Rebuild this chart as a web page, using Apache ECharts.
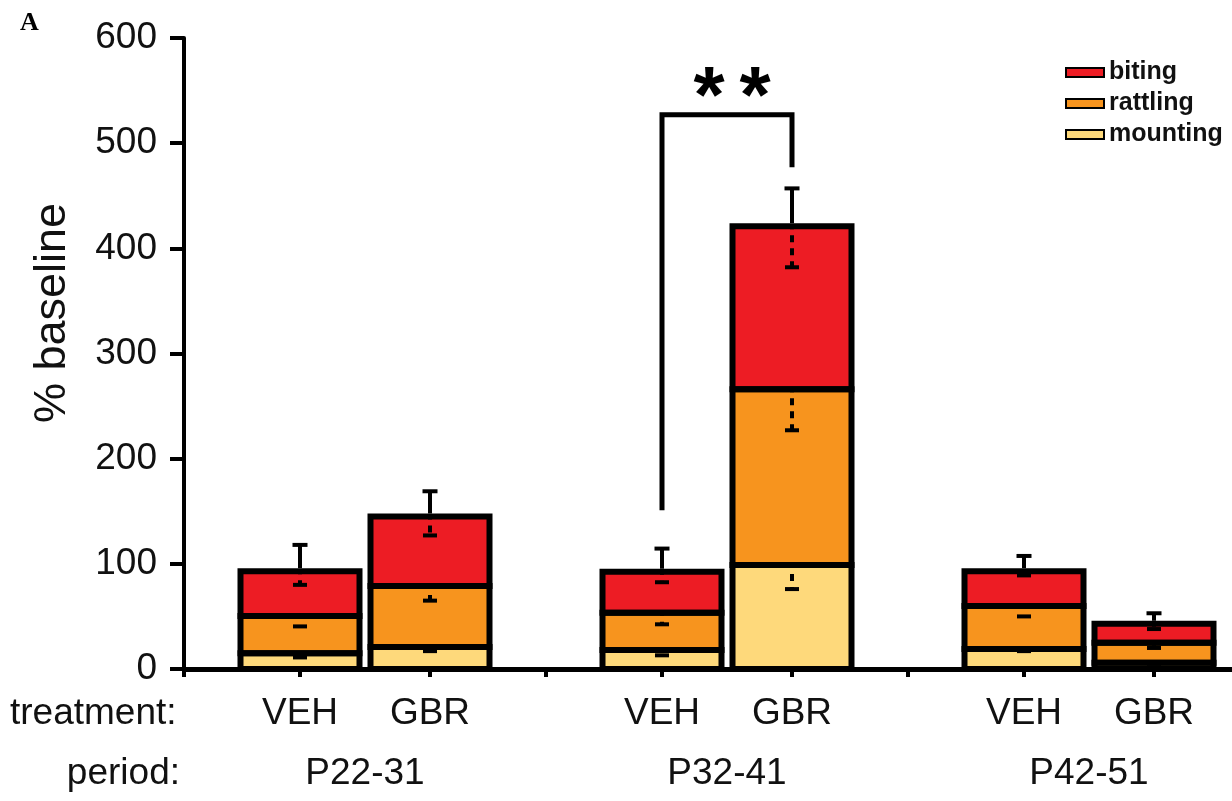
<!DOCTYPE html>
<html>
<head>
<meta charset="utf-8">
<style>
  html, body { margin: 0; padding: 0; background: #fff; }
  #chart { width: 1232px; height: 801px; }
</style>
<script src="https://cdn.jsdelivr.net/npm/echarts@6/dist/echarts.min.js"></script>
</head>
<body>
<div id="chart"></div>
<script>
// ---------- data ----------
const periods = ['P22-31', 'P32-41', 'P42-51'];
const treatments = ['VEH', 'GBR'];
const behaviours = ['biting', 'rattling', 'mounting'];

// stacked segment values (% baseline), per period
const vehMounting = [15, 18, 19];
const vehRattling = [35.5, 35.5, 41];
const vehBiting   = [42.5, 39, 33];
const gbrMounting = [21, 99, 6];
const gbrRattling = [58, 167, 19];
const gbrBiting   = [66, 155, 18];

// error bars: downward per segment (from segment top), upward for total
const vehMountingErr = [4, 5, 2];
const vehRattlingErr = [10, 11, 10];
const vehBitingErr   = [13, 10, 4];
const vehTotalErr    = [25, 22, 14.5];
const gbrMountingErr = [4, 23, 1];
const gbrRattlingErr = [14, 39, 5];
const gbrBitingErr   = [18, 39, 5];
const gbrTotalErr    = [24, 36, 10];

// significance bracket (period index, left/top/right y-values)
const sigPeriod = 1;
const sigLeft = 151;
const sigTop = 527;
const sigRight = 477;
const sigText = '*';

const yMin = 0, yMax = 600, yInterval = 100;

// ---------- style ----------
const FONT = "'Liberation Sans', Arial, Helvetica, sans-serif";
const COLORS = { biting: '#ED1C24', rattling: '#F7941E', mounting: '#FED97B' };
const BAR_W = 119;
const GAP = 11;
const BORDER = 6;

const segs = {
  VEH: { mounting: vehMounting, rattling: vehRattling, biting: vehBiting },
  GBR: { mounting: gbrMounting, rattling: gbrRattling, biting: gbrBiting }
};
const errs = {
  VEH: { mounting: vehMountingErr, rattling: vehRattlingErr, biting: vehBitingErr, total: vehTotalErr },
  GBR: { mounting: gbrMountingErr, rattling: gbrRattlingErr, biting: gbrBitingErr, total: gbrTotalErr }
};
const stackOrder = ['mounting', 'rattling', 'biting'];

const barSeries = [];
treatments.forEach(function (t) {
  stackOrder.forEach(function (b) {
    barSeries.push({
      type: 'bar',
      name: b,
      stack: t,
      data: segs[t][b],
      barWidth: BAR_W,
      barGap: (GAP / BAR_W * 100).toFixed(2) + '%',
      itemStyle: { color: COLORS[b], borderWidth: 0 },
      emphasis: { disabled: true },
      z: 2
    });
  });
});

const errData = [];
periods.forEach(function (p, pi) { treatments.forEach(function (t, ti) { errData.push([pi, ti]); }); });

function barX(api, pi, ti) {
  const base = api.coord([pi, 0]);
  const off = (BAR_W + GAP) / 2;
  return [base[0] + (ti === 0 ? -off : off), base[1]];
}

function renderErr(params, api) {
  const pi = api.value(0), ti = api.value(1);
  const t = treatments[ti];
  const xy = barX(api, pi, ti);
  const x = xy[0], y0 = xy[1];
  const outlines = [], bars = [];
  let cum = 0;
  stackOrder.forEach(function (b) {
    const prev = cum;
    cum += segs[t][b][pi];
    const yBot = api.coord([pi, prev])[1];
    const yTop = api.coord([pi, cum])[1];
    outlines.push({ type: 'rect', shape: { x: x - BAR_W / 2, y: yTop, width: BAR_W, height: yBot - yTop },
      style: { fill: null, stroke: '#000', lineWidth: BORDER, lineJoin: 'miter' } });
    const yLow = api.coord([pi, cum - errs[t][b][pi]])[1];
    bars.push({ type: 'line', shape: { x1: x, y1: yTop, x2: x, y2: yLow },
      style: { stroke: '#000', lineWidth: 4, lineDash: [7, 6], lineDashOffset: 4 } });
    bars.push({ type: 'line', shape: { x1: x - 7, y1: yLow, x2: x + 7, y2: yLow },
      style: { stroke: '#000', lineWidth: 4 } });
  });
  const yTotal = api.coord([pi, cum])[1];
  const yUp = api.coord([pi, cum + errs[t].total[pi]])[1];
  bars.push({ type: 'line', shape: { x1: x, y1: yTotal - BORDER / 2, x2: x, y2: yUp },
    style: { stroke: '#000', lineWidth: 4 } });
  bars.push({ type: 'line', shape: { x1: x - 7.5, y1: yUp, x2: x + 7.5, y2: yUp },
    style: { stroke: '#000', lineWidth: 4 } });
  // tick under bar centre
  bars.push({ type: 'line', shape: { x1: x, y1: y0, x2: x, y2: y0 + 8 },
    style: { stroke: '#000', lineWidth: 4 } });
  // treatment label
  bars.push({ type: 'text', x: x, y: y0 + 45,
    style: { text: t, fill: '#111', font: '37px ' + FONT, align: 'center', verticalAlign: 'middle' } });
  return { type: 'group', children: outlines.concat(bars) };
}

function renderSig(params, api) {
  const l = barX(api, sigPeriod, 0), r = barX(api, sigPeriod, 1);
  const yL = api.coord([sigPeriod, sigLeft])[1];
  const yT = api.coord([sigPeriod, sigTop])[1];
  const yR = api.coord([sigPeriod, sigRight])[1];
  const cx = (l[0] + r[0]) / 2;
  return { type: 'group', children: [
    { type: 'polyline', shape: { points: [[l[0], yL], [l[0], yT], [r[0], yT], [r[0], yR]] },
      style: { stroke: '#000', lineWidth: 5, fill: null, lineJoin: 'miter' } },
    { type: 'text', x: cx - 18, y: yT - 15,
      style: { text: sigText, fill: '#000', font: 'bold 80px ' + FONT, align: 'center', verticalAlign: 'middle' } },
    { type: 'text', x: cx + 28, y: yT - 15,
      style: { text: sigText, fill: '#000', font: 'bold 80px ' + FONT, align: 'center', verticalAlign: 'middle' } }
  ] };
}

const chart = echarts.init(document.getElementById('chart'), null, { renderer: 'canvas' });
chart.setOption({
  animation: false,
  backgroundColor: '#fff',
  textStyle: { fontFamily: FONT },
  grid: { left: 184, right: -38, top: 38, bottom: 132, containLabel: false, outerBoundsMode: 'none' },
  legend: {
    data: behaviours,
    orient: 'vertical',
    left: 1065, top: 60,
    padding: 0,
    itemWidth: 38, itemHeight: 9, itemGap: 6,
    icon: 'rect',
    itemStyle: { borderWidth: 2, borderColor: '#000' },
    textStyle: { fontSize: 25, fontWeight: 'bold', color: '#111', fontFamily: FONT, lineHeight: 24.5 },
    selectedMode: false
  },
  xAxis: {
    type: 'category',
    data: periods,
    axisLine: { lineStyle: { color: '#000', width: 5 } },
    axisTick: { show: true, interval: 0, length: 8, lineStyle: { color: '#000', width: 4 } },
    axisLabel: { fontSize: 37, color: '#111', margin: 105, verticalAlign: 'middle', fontFamily: FONT },
    splitLine: { show: false }
  },
  yAxis: {
    type: 'value',
    min: yMin, max: yMax, interval: yInterval,
    axisLine: { show: true, lineStyle: { color: '#000', width: 4 } },
    axisTick: { show: true, length: 14, lineStyle: { color: '#000', width: 4 } },
    axisLabel: { fontSize: 37, color: '#111', margin: 27, fontFamily: FONT },
    splitLine: { show: false }
  },
  graphic: [
    { type: 'text', left: 20, top: 10, style: { text: 'A', font: 'bold 26px "Liberation Serif", "Times New Roman", serif', fill: '#000' } },
    { type: 'text', x: 10, y: 714, style: { text: 'treatment:', font: '37px ' + FONT, fill: '#111', align: 'left', verticalAlign: 'middle' } },
    { type: 'text', x: 180, y: 774, style: { text: 'period:', font: '37px ' + FONT, fill: '#111', align: 'right', verticalAlign: 'middle' } },
    { type: 'text', x: 53, y: 313, rotation: Math.PI / 2, style: { text: '% baseline', font: '45px ' + FONT, fill: '#111', align: 'center', verticalAlign: 'middle' } }
  ],
  series: barSeries.concat([
    { type: 'custom', name: 'err', data: errData, encode: { x: 0, y: 1 }, renderItem: renderErr, clip: false, z: 5, silent: true },
    { type: 'custom', name: 'sig', data: [[sigPeriod, sigTop]], encode: { x: 0, y: 1 }, renderItem: renderSig, clip: false, z: 5, silent: true }
  ])
});
</script>
</body>
</html>
